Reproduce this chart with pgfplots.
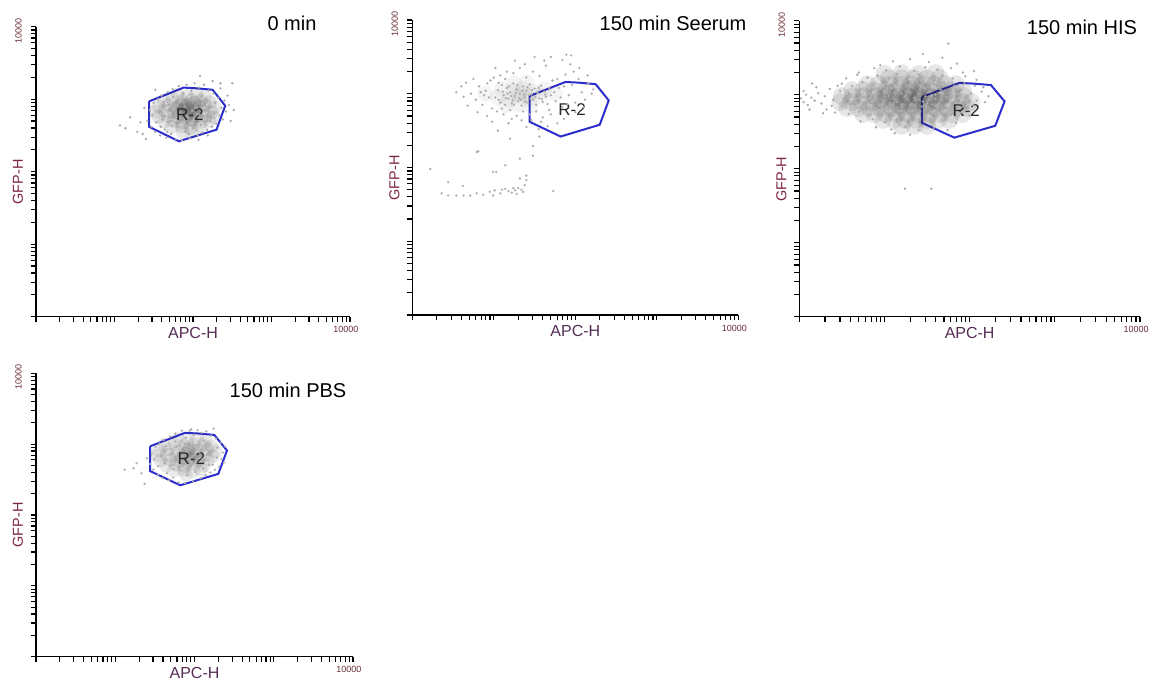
\documentclass[border=0pt]{standalone}
\usepackage{fontspec}
\setmainfont{Liberation Sans}
\usepackage{pgfplots}
\pgfplotsset{compat=1.18}
\definecolor{gatecol}{RGB}{45,45,205}
\definecolor{gfpcol}{RGB}{125,35,65}
\definecolor{apccol}{RGB}{85,45,85}
\definecolor{tickcol}{RGB}{105,45,55}
\pgfplotsset{
 flow/.style={
  scale only axis, xmin=0, xmax=4, ymin=0, ymax=4,
  axis x line*=bottom, axis y line*=left,
  axis line style={line width=0.7pt, black},
  xtick={0,1,2,3,4}, ytick={0,1,2,3,4},
  minor xtick={0.301,0.477,0.602,0.699,0.778,0.845,0.903,0.954,1.301,1.477,1.602,1.699,1.778,1.845,1.903,1.954,2.301,2.477,2.602,2.699,2.778,2.845,2.903,2.954,3.301,3.477,3.602,3.699,3.778,3.845,3.903,3.954},
  minor ytick={0.301,0.477,0.602,0.699,0.778,0.845,0.903,0.954,1.301,1.477,1.602,1.699,1.778,1.845,1.903,1.954,2.301,2.477,2.602,2.699,2.778,2.845,2.903,2.954,3.301,3.477,3.602,3.699,3.778,3.845,3.903,3.954},
  xticklabels={{},{},{},{},10000}, yticklabels={{},{},{},{},10000},
  tick align=outside, major tick length=2.6pt, minor tick length=2.6pt,
  tick style={black, line width=0.6pt},
  xticklabel style={font=\fontsize{4.5}{5}\selectfont, text=tickcol, yshift=1.2pt, xshift=-2pt},
  yticklabel style={font=\fontsize{4.5}{5}\selectfont, text=tickcol, rotate=90, anchor=south, yshift=1pt, xshift=-2pt},
  xlabel={APC-H}, ylabel={GFP-H},
  xlabel style={at={(axis description cs:0.5,0)}, anchor=center, yshift=-8pt, font=\fontsize{8}{9}\selectfont, text=apccol},
  ylabel style={at={(axis description cs:0,0.465)}, anchor=center, yshift=9pt, font=\fontsize{7.2}{8}\selectfont, text=gfpcol},
 },
 dot/.style={only marks, mark=*, mark size=0.65pt, color=black!34, mark options={draw opacity=0}},
 core/.style 2 args={only marks, mark=*, mark size=#1, color=black!85, mark options={draw opacity=0, fill opacity=#2}},
 gate/.style={no marks, color=gatecol, line width=1pt},
}
\newcommand{\gate}{\addplot[gate] coordinates {(1.44,2.97) (1.88,3.16) (2.05,3.15) (2.25,3.13) (2.41,2.91) (2.30,2.58) (1.82,2.42) (1.44,2.62) (1.44,2.97)};}
\newcommand{\rlabel}{\node[font=\fontsize{8.5}{9}\selectfont, text=black!85] at (axis cs:1.96,2.79) {R-2};}
\begin{document}
\begin{tikzpicture}
\path[use as bounding box] (0,0) rectangle (580.5pt,-340.5pt);
% ---------------- Panel 1: 0 min
\begin{axis}[flow, at={(18pt,-158.35pt)}, anchor=south west, width=157pt, height=145pt]
\addplot[core={3.5pt}{0.11}] table {
x y
1.80 3.06
1.92 3.04
2.04 3.07
2.15 3.03
1.63 2.98
1.74 3.00
1.86 2.97
1.98 2.99
2.10 2.98
2.22 2.96
1.56 2.90
1.68 2.92
1.80 2.89
1.91 2.91
2.03 2.90
2.15 2.92
2.27 2.89
1.52 2.83
1.64 2.84
1.76 2.82
1.88 2.85
2.00 2.83
2.12 2.84
2.24 2.82
1.56 2.76
1.68 2.77
1.80 2.75
1.92 2.78
2.04 2.76
2.16 2.77
2.26 2.75
1.63 2.69
1.75 2.70
1.87 2.68
1.99 2.71
2.11 2.69
2.21 2.70
1.73 2.62
1.85 2.63
1.97 2.61
2.09 2.63
1.87 2.55
1.99 2.56
1.88 2.86
1.95 2.80
2.00 2.88
1.82 2.80
1.93 2.93
2.05 2.78
1.90 2.74
1.78 2.88
2.08 2.90
1.98 2.72
1.85 2.92
2.02 2.95
1.94 2.86
};
\addplot[dot] table {
x y
1.42 2.70
1.45 2.85
1.47 2.62
1.50 2.95
1.48 2.78
1.52 2.55
1.55 3.00
1.53 2.68
1.58 2.50
1.60 3.05
1.62 2.88
1.64 2.58
1.66 2.47
1.68 3.10
1.70 2.75
1.72 2.52
1.74 3.14
1.76 2.95
1.78 2.45
1.80 2.62
1.82 3.18
1.84 2.82
1.86 2.43
1.88 3.08
1.90 2.55
1.92 3.20
1.94 2.68
1.96 2.46
1.98 3.12
2.00 2.60
2.02 3.22
2.04 2.98
2.06 2.50
2.08 3.16
2.10 2.65
2.12 2.54
2.14 3.20
2.16 2.85
2.18 2.58
2.20 3.12
2.22 2.70
2.24 2.62
2.26 3.08
2.28 2.95
2.30 2.66
2.32 3.02
2.34 2.78
2.36 2.88
2.38 2.72
2.40 2.98
2.42 2.83
2.44 3.05
2.46 2.92
2.35 3.15
2.25 3.25
1.57 2.82
1.61 2.72
1.69 2.92
1.73 2.64
1.77 2.80
1.81 2.97
1.85 2.70
1.89 2.90
1.93 2.77
1.97 2.98
2.01 2.73
2.05 2.88
2.09 2.78
2.13 2.96
2.17 2.70
2.21 2.90
2.27 2.80
1.87 3.00
1.99 2.84
2.11 3.04
1.75 3.03
1.63 2.96
1.59 2.62
1.67 2.55
2.19 2.50
2.07 2.44
1.95 2.52
1.07 2.64
1.14 2.60
1.29 2.55
2.50 3.22
2.09 3.32
2.35 3.22
1.52 3.13
1.20 2.75
1.33 2.68
1.38 2.88
1.36 2.52
2.52 2.85
2.48 2.70
1.40 2.45
};
\gate
\rlabel
\end{axis}
% ---------------- Panel 2: 150 min Seerum
\begin{axis}[flow, at={(206.15pt,-157.5pt)}, anchor=south west, width=163pt, height=147.5pt]
\addplot[core={4pt}{0.05}] table {
x y
1.05 2.95
1.18 2.92
1.31 2.96
1.44 2.93
1.57 2.97
1.10 3.06
1.23 3.04
1.36 3.07
1.49 3.03
1.62 3.06
1.15 2.85
1.30 2.86
1.45 2.85
1.25 3.14
1.40 3.15
0.90 3.00
1.75 3.00
1.30 3.00
1.40 2.98
};
\addplot[dot, color=black!32] table {
x y
1.02 2.95
1.05 3.05
1.08 2.88
1.10 3.12
1.12 2.98
1.14 2.85
1.16 3.08
1.18 2.93
1.20 3.02
1.22 2.87
1.24 3.14
1.26 2.97
1.28 3.06
1.30 2.90
1.32 3.00
1.34 2.84
1.36 3.10
1.38 2.95
1.40 3.04
1.42 2.88
1.44 3.13
1.46 2.99
1.48 2.92
1.50 3.07
1.52 2.85
1.54 3.01
1.56 2.94
1.58 3.11
1.60 2.89
1.62 3.03
1.64 2.96
1.66 2.86
1.68 3.08
1.70 2.98
1.06 2.92
1.11 3.03
1.15 2.94
1.19 3.10
1.23 2.91
1.27 3.01
1.31 2.94
1.35 3.04
1.39 2.89
1.43 2.98
1.47 3.05
1.51 2.96
1.55 3.08
1.59 2.93
1.63 2.99
1.21 2.97
1.29 3.12
1.37 2.99
1.45 2.93
1.53 3.02
1.25 2.85
1.41 3.09
1.33 2.92
1.17 3.00
0.72 3.00
0.78 2.92
0.82 3.10
0.86 2.85
0.90 3.04
0.94 2.95
0.96 3.18
0.98 2.80
1.00 3.22
1.04 2.76
1.08 3.25
1.12 2.72
1.16 3.30
1.20 2.78
1.24 3.28
1.28 2.70
1.32 3.35
1.36 2.76
1.40 3.22
1.44 2.72
1.48 3.30
1.52 2.76
1.56 3.24
1.60 2.68
1.64 3.38
1.68 2.78
1.72 3.18
1.76 2.90
1.80 3.08
1.84 2.82
1.88 3.26
1.92 2.98
1.96 3.12
2.00 2.88
2.04 3.20
2.08 3.02
2.12 2.92
2.16 3.14
2.20 3.00
2.22 3.06
1.74 3.02
1.82 2.95
1.78 3.20
1.86 3.10
1.90 2.86
1.70 2.72
1.58 2.62
1.46 2.64
1.34 2.64
1.22 2.66
1.10 2.80
0.88 2.98
0.92 3.14
0.84 3.02
1.98 3.30
1.62 3.45
1.38 3.40
1.14 3.20
1.06 3.15
1.94 3.40
1.84 3.46
0.54 3.02
0.63 2.96
0.60 3.10
0.68 2.84
0.75 3.20
0.80 2.75
0.92 2.70
1.26 3.45
1.50 3.50
1.89 3.53
1.95 3.52
1.70 3.50
2.05 3.35
2.15 3.25
2.00 2.75
1.86 2.66
1.78 2.60
1.66 2.56
1.55 2.52
1.40 2.55
0.98 2.62
1.18 2.60
0.66 3.15
1.02 3.35
2.10 2.82
0.81 2.22
1.20 2.39
1.32 2.12
1.48 2.29
1.14 2.03
0.99 1.94
1.48 2.16
1.32 1.85
1.40 1.89
0.95 1.67
1.01 1.69
1.08 1.65
1.14 1.71
1.18 1.68
1.22 1.66
1.26 1.69
1.30 1.72
1.34 1.70
1.38 1.76
1.36 1.67
0.87 1.63
0.79 1.65
0.71 1.62
0.63 1.62
0.54 1.62
0.44 1.62
0.36 1.65
0.22 1.98
0.44 1.80
0.99 1.62
1.73 1.68
1.40 1.83
0.79 2.21
1.03 1.94
1.10 1.70
1.24 1.72
1.28 1.64
1.05 2.50
1.56 2.42
0.62 1.75
};
\gate
\rlabel
\end{axis}
% ---------------- Panel 3: 150 min HIS
\begin{axis}[flow, at={(399.65pt,-158.35pt)}, anchor=south west, width=170.35pt, height=148pt]
\addplot[core={4.5pt}{0.11}] table {
x y
1.00 3.28
1.20 3.29
1.40 3.28
1.60 3.29
1.05 3.22
1.20 3.22
1.35 3.22
1.50 3.22
1.65 3.22
0.80 3.14
0.93 3.14
1.06 3.14
1.19 3.14
1.32 3.14
1.45 3.14
1.58 3.14
1.71 3.14
1.84 3.14
0.62 3.06
0.75 3.06
0.88 3.06
1.01 3.06
1.14 3.06
1.27 3.06
1.40 3.06
1.53 3.06
1.66 3.06
1.79 3.06
1.92 3.06
0.50 2.98
0.63 2.98
0.76 2.98
0.89 2.98
1.02 2.98
1.15 2.98
1.28 2.98
1.41 2.98
1.54 2.98
1.67 2.98
1.80 2.98
1.93 2.98
0.48 2.90
0.61 2.90
0.74 2.90
0.87 2.90
1.00 2.90
1.13 2.90
1.26 2.90
1.39 2.90
1.52 2.90
1.65 2.90
1.78 2.90
1.91 2.90
2.02 2.90
0.56 2.82
0.69 2.82
0.82 2.82
0.95 2.82
1.08 2.82
1.21 2.82
1.34 2.82
1.47 2.82
1.60 2.82
1.73 2.82
1.86 2.82
1.98 2.82
0.75 2.74
0.88 2.74
1.01 2.74
1.14 2.74
1.27 2.74
1.40 2.74
1.53 2.74
1.66 2.74
1.79 2.74
1.92 2.74
0.98 2.66
1.11 2.66
1.24 2.66
1.37 2.66
1.50 2.66
1.63 2.66
1.76 2.66
1.20 2.58
1.35 2.58
1.50 2.58
1.10 2.95
1.25 3.00
1.40 2.93
1.55 2.96
1.18 2.86
1.33 2.85
1.48 2.86
1.30 3.08
1.45 3.05
1.05 3.02
1.62 2.90
1.22 2.92
1.38 2.99
0.95 2.93
1.70 3.00
};
\addplot[dot] table {
x y
0.02 2.95
0.05 2.90
0.08 3.00
0.10 2.86
0.14 2.96
0.18 2.92
0.22 3.02
0.26 2.88
0.30 2.98
0.32 2.80
0.36 3.08
0.40 2.93
0.42 2.76
0.45 3.12
0.05 3.05
0.12 2.80
0.20 3.10
0.28 2.75
0.38 2.85
0.15 3.15
1.10 3.45
1.30 3.48
1.52 3.44
1.68 3.50
1.85 3.42
1.45 3.55
1.75 3.69
0.95 3.40
0.70 3.30
0.88 3.36
1.02 3.33
1.18 3.38
1.35 3.32
1.48 3.37
1.62 3.34
1.78 3.36
1.92 3.30
2.05 3.32
0.55 3.22
0.68 3.27
0.80 3.23
0.92 3.26
1.05 3.22
1.15 3.28
1.28 3.24
1.40 3.27
1.55 3.23
1.68 3.26
1.80 3.22
1.95 3.25
2.08 3.20
0.50 3.15
0.62 3.12
0.74 3.17
0.86 3.13
0.98 3.18
1.10 3.14
1.22 3.17
1.34 3.13
1.46 3.18
1.58 3.14
1.70 3.17
1.82 3.12
1.94 3.16
2.06 3.12
2.16 3.10
0.48 3.05
0.58 3.02
0.70 3.07
0.82 3.03
0.94 3.08
1.06 3.04
1.18 3.07
1.30 3.03
1.42 3.08
1.54 3.04
1.66 3.07
1.78 3.03
1.90 3.06
2.02 3.02
2.14 3.04
2.22 2.98
0.52 2.95
0.64 2.92
0.76 2.97
0.88 2.93
1.00 2.98
1.12 2.94
1.24 2.97
1.36 2.93
1.48 2.98
1.60 2.94
1.72 2.97
1.84 2.93
1.96 2.96
2.08 2.92
2.18 2.90
0.50 2.84
0.60 2.87
0.72 2.83
0.84 2.88
0.96 2.84
1.08 2.87
1.20 2.83
1.32 2.88
1.44 2.84
1.56 2.87
1.68 2.83
1.80 2.88
1.92 2.84
2.04 2.86
0.58 2.74
0.70 2.77
0.82 2.73
0.94 2.77
1.06 2.74
1.18 2.77
1.30 2.73
1.42 2.77
1.54 2.74
1.66 2.77
1.78 2.73
1.90 2.76
2.00 2.72
0.72 2.64
0.86 2.67
1.00 2.63
1.14 2.66
1.28 2.62
1.42 2.66
1.56 2.63
1.70 2.66
1.84 2.62
0.90 2.56
1.08 2.53
1.24 2.57
1.40 2.52
1.58 2.55
1.74 2.52
1.30 2.46
1.12 2.48
1.24 1.73
1.55 1.73
1.15 2.90
1.25 2.99
1.35 2.96
1.45 2.91
1.55 2.99
1.05 2.98
1.20 3.02
1.40 3.01
1.30 2.86
1.50 2.88
1.10 2.84
1.60 3.00
};
\gate
\rlabel
\end{axis}
% ---------------- Panel 4: 150 min PBS
\begin{axis}[flow, at={(18pt,-328.35pt)}, anchor=south west, width=158.5pt, height=141.7pt]
\addplot[core={3.5pt}{0.095}] table {
x y
1.79 3.07
1.91 3.05
2.03 3.08
2.14 3.04
1.62 2.99
1.75 3.01
1.87 2.98
1.99 3.00
2.11 2.99
2.21 2.97
1.55 2.91
1.67 2.93
1.79 2.90
1.92 2.92
2.04 2.91
2.16 2.93
2.26 2.90
1.53 2.84
1.65 2.85
1.77 2.83
1.89 2.86
2.01 2.84
2.13 2.85
2.23 2.83
1.57 2.77
1.69 2.78
1.81 2.76
1.93 2.79
2.05 2.77
2.17 2.78
1.64 2.70
1.76 2.71
1.88 2.69
2.00 2.72
2.12 2.70
1.74 2.63
1.86 2.64
1.98 2.62
2.08 2.64
1.89 2.57
1.87 2.87
1.96 2.81
2.01 2.89
1.83 2.81
1.94 2.94
2.06 2.79
1.91 2.75
};
\addplot[dot, color=black!32] table {
x y
1.44 2.72
1.46 2.86
1.48 2.64
1.51 2.96
1.49 2.79
1.54 2.57
1.56 3.01
1.54 2.69
1.60 2.52
1.61 3.06
1.63 2.89
1.65 2.59
1.68 2.49
1.69 3.11
1.71 2.76
1.73 2.53
1.76 3.15
1.77 2.96
1.80 2.46
1.81 2.63
1.84 3.19
1.85 2.83
1.88 2.45
1.89 3.09
1.91 2.56
1.94 3.19
1.95 2.69
1.98 2.48
1.99 3.13
2.01 2.61
2.04 3.20
2.05 2.99
2.08 2.52
2.09 3.16
2.11 2.66
2.14 2.56
2.15 3.18
2.17 2.86
2.20 2.60
2.21 3.12
2.23 2.71
2.26 2.64
2.27 3.08
2.29 2.95
2.31 2.68
2.33 3.02
2.34 2.79
2.36 2.88
2.37 2.74
2.38 2.97
1.58 2.83
1.62 2.73
1.70 2.93
1.74 2.65
1.78 2.81
1.82 2.98
1.86 2.71
1.90 2.91
1.94 2.78
1.98 2.99
2.02 2.74
2.06 2.89
2.10 2.79
2.14 2.97
2.18 2.71
2.22 2.91
2.28 2.81
1.88 3.01
2.00 2.85
2.12 3.05
1.76 3.04
1.64 2.97
1.12 2.64
1.23 2.66
1.27 2.73
1.37 2.44
1.33 2.59
1.96 3.21
2.24 3.22
1.40 2.80
};
\gate
\rlabel
\end{axis}
% ---------------- titles
\node[font=\fontsize{10}{11}\selectfont] at (146pt,-11.5pt) {0 min};
\node[font=\fontsize{10}{11}\selectfont] at (336.5pt,-11.5pt) {150 min Seerum};
\node[font=\fontsize{10}{11}\selectfont] at (541pt,-13.5pt) {150 min HIS};
\node[font=\fontsize{10}{11}\selectfont] at (144pt,-195pt) {150 min PBS};
\end{tikzpicture}
\end{document}
